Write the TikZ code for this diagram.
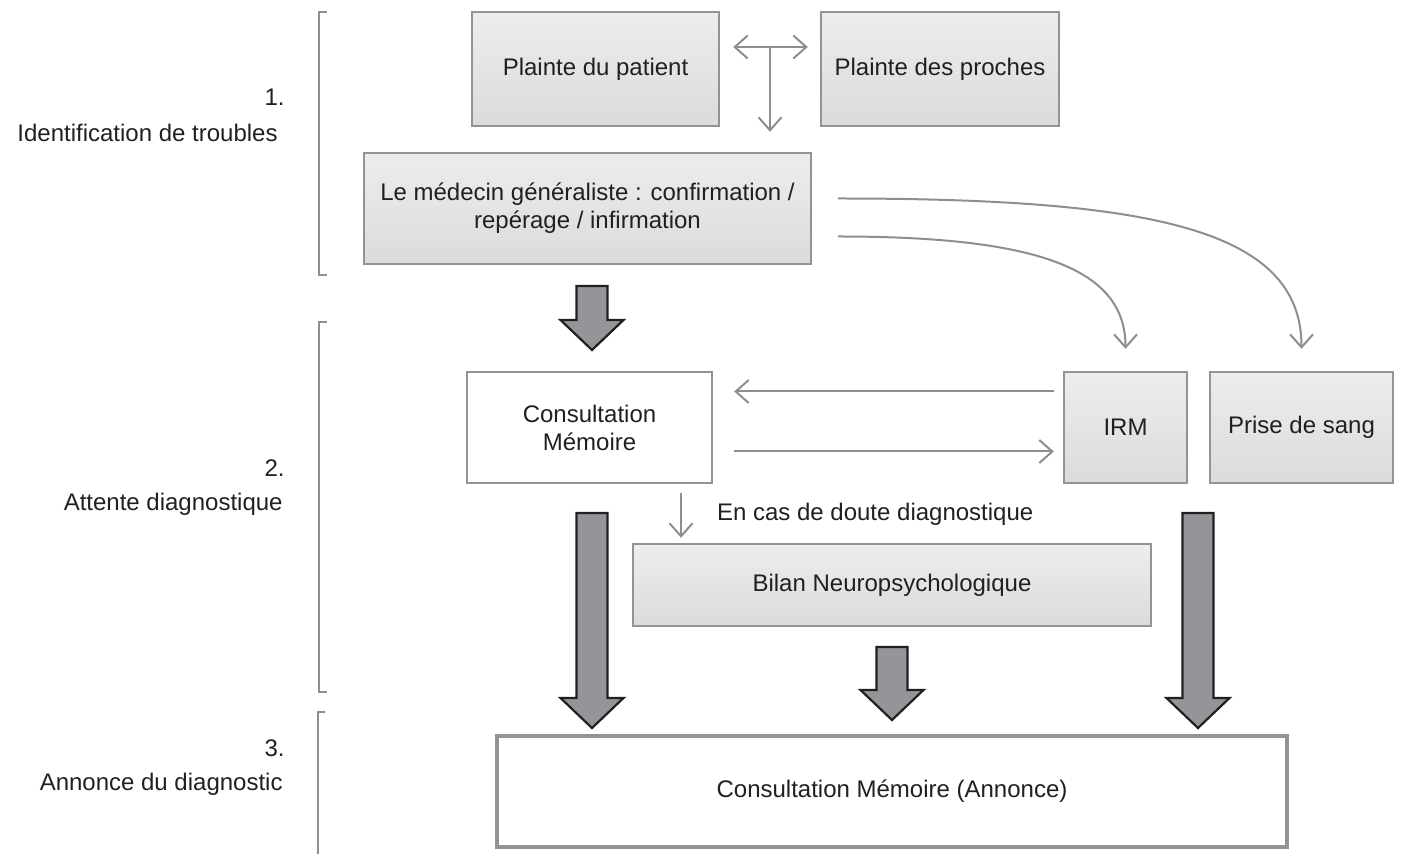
\documentclass[tikz,border=0pt]{standalone}
\usepackage{fontspec}
\setmainfont{Liberation Sans}
\usepackage{xcolor}
\usetikzlibrary{arrows.meta,calc}
\definecolor{boxline}{HTML}{939395}
\definecolor{boxtop}{HTML}{EDEDEE}
\definecolor{boxbot}{HTML}{DADBDD}
\definecolor{linkgray}{HTML}{8E8E90}
\definecolor{bigfill}{HTML}{939598}
\definecolor{ink}{HTML}{231F20}
\tikzset{
  stepbox/.style={draw=boxline,line width=1.2pt,top color=boxtop,bottom color=boxbot,
                  text=ink,align=center,inner sep=2pt},
  whitebox/.style={draw=boxline,line width=1.2pt,fill=white,text=ink,align=center,inner sep=2pt},
  link/.style={draw=linkgray,line width=1pt,->},
  bigarrow/.style={fill=bigfill,draw=ink,line width=1.1pt,line join=miter},
  bracket/.style={draw=linkgray,line width=1pt},
}
\newcommand{\blockarrow}[2]{% #1 top of shaft, #2 tip
  \draw[bigarrow] ($(#1)+(-15.5,0)$) -- ($(#1)+(15.5,0)$) -- ($(#2)+(15.5,-30)$)
    -- ($(#2)+(31.5,-30)$) -- (#2) -- ($(#2)+(-31.5,-30)$) -- ($(#2)+(-15.5,-30)$) -- cycle;}

\begin{document}
\begin{tikzpicture}[x=0.5pt,y=-0.5pt,font=\fontsize{12}{14}\selectfont,
                    >={Straight Barb[length=6.5pt,width=11.5pt]}]
  \useasboundingbox (0,0) rectangle (1403,854);
  % Stage labels
  \foreach \n/\y/\xr/\t in {1/97/278/Identification de troubles,
                            2/468/283/Attente diagnostique,
                            3/748/283/Annonce du diagnostic}{
    \node[anchor=east,text=ink,inner sep=0pt] (num\n) at (285,\y) {\n.};
    \node[anchor=east,text=ink,inner sep=0pt] (lab\n) at (\xr,\y+36) {\t};
  }
  % Brackets
  \foreach \yt/\yb in {12/275,322/692}{
    \draw[bracket] (327,\yt) -- (319,\yt) -- (319,\yb) -- (327,\yb);
  }
  \draw[bracket] (325,712) -- (318,712) -- (318,854);
  % Boxes
  \node[stepbox,minimum width=123.5pt,minimum height=57pt] (patient) at (595.5,69) {Plainte du patient};
  \node[stepbox,minimum width=119pt,minimum height=57pt] (proches) at (940,69) {Plainte des proches};
  \node[stepbox,minimum width=223.5pt,minimum height=55.5pt] (medecin) at (587.5,208.5)
       {Le médecin généraliste : confirmation /\\repérage / infirmation};
  \node[whitebox,minimum width=122.5pt,minimum height=55.5pt] (consult) at (589.5,427.5)
       {Consultation\\Mémoire};
  \node[stepbox,minimum width=61.5pt,minimum height=55.5pt] (irm) at (1125.5,427.5) {IRM};
  \node[stepbox,minimum width=91.5pt,minimum height=55.5pt] (prise) at (1301.5,427.5) {Prise de sang};
  \node[anchor=west,text=ink] (doute) at (710,514) {En cas de doute diagnostique};
  \node[stepbox,minimum width=259pt,minimum height=41pt] (bilan) at (892,585) {Bilan Neuropsychologique};
  \node[whitebox,line width=2pt,minimum width=395pt,minimum height=55.5pt] (annonce) at (892,791.5)
       {Consultation Mémoire (Annonce)};
  % Thin links
  \coordinate (tmid) at (770,47);
  \draw[link,<->,shorten <=6.5pt,shorten >=6pt] (patient.east |- tmid) -- (proches.west |- tmid);
  \draw[link,shorten >=10pt] (tmid) -- (tmid |- medecin.north);
  \draw[link] ([xshift=13pt,yshift=5pt]medecin.east) .. controls +(313,0) and +(0,-120)
        .. ([yshift=11pt]prise.north);
  \draw[link] ([xshift=13pt,yshift=-14pt]medecin.east) .. controls +(200,0) and +(0,-80)
        .. ([yshift=11pt]irm.north);
  \draw[link] ([xshift=-4.5pt,yshift=18pt]irm.west) -- ([xshift=10.5pt,yshift=18pt]consult.east);
  \draw[link] ([xshift=10.5pt,yshift=-12pt]consult.east) -- ([xshift=-4.5pt,yshift=-12pt]irm.west);
  \coordinate (doubt) at (681,493);
  \draw[link,shorten >=2.5pt] (doubt) -- (doubt |- bilan.north);
  % Block arrows
  \coordinate (b1s) at (592,286);  \coordinate (b1e) at (592,350);
  \coordinate (b2s) at (592,513);  \coordinate (b2e) at (592,728);
  \coordinate (b3s) at (892,647);  \coordinate (b3e) at (892,720);
  \coordinate (b4s) at (1198,513); \coordinate (b4e) at (1198,728);
  \blockarrow{b1s}{b1e}
  \blockarrow{b2s}{b2e}
  \blockarrow{b3s}{b3e}
  \blockarrow{b4s}{b4e}
\end{tikzpicture}
\end{document}
